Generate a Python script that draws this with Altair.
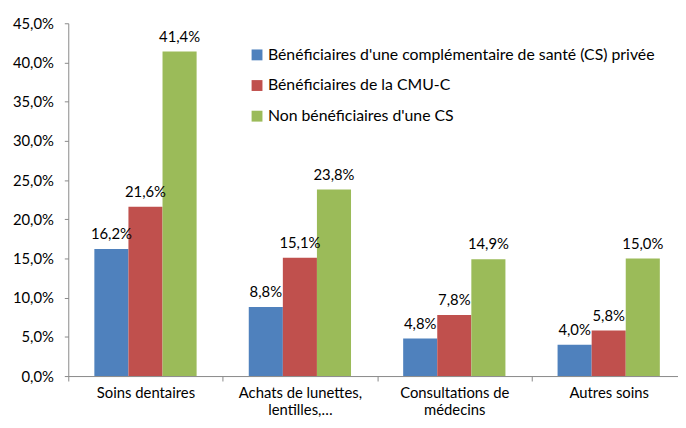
import altair as alt
import pandas as pd

categories = ["Soins dentaires", "Achats de lunettes, lentilles,…", "Consultations de médecins", "Autres soins"]
series = [
    "Bénéficiaires d'une complémentaire de santé (CS) privée",
    "Bénéficiaires de la CMU-C",
    "Non bénéficiaires d'une CS",
]
cs_privee = [16.2, 8.8, 4.8, 4.0]
cmu_c = [21.6, 15.1, 7.8, 5.8]
non_cs = [41.4, 23.8, 14.9, 15.0]
colors = ["#4F81BD", "#C0504D", "#9BBB59"]
y_ticks = [0, 0.05, 0.10, 0.15, 0.20, 0.25, 0.30, 0.35, 0.40, 0.45]

rows = []
for s, vals in zip(series, [cs_privee, cmu_c, non_cs]):
    for c, v in zip(categories, vals):
        rows.append({"cat": c, "serie": s, "val": v / 100,
                     "label": f"{v:.1f}%".replace(".", ",")})
df = pd.DataFrame(rows)

FONT = "Lato"

label_expr = (
    "datum.value == 'Achats de lunettes, lentilles,…' ? ['Achats de lunettes,', 'lentilles,…'] : "
    "datum.value == 'Consultations de médecins' ? ['Consultations de', 'médecins'] : datum.value"
)

base = alt.Chart(df).encode(
    x=alt.X("cat:N", sort=categories,
            scale=alt.Scale(range=[0, 625], paddingInner=0, paddingOuter=0),
            axis=alt.Axis(title=None, labelAngle=0, tickBand="extent",
                          labelExpr=label_expr, labelLineHeight=17,
                          labelPadding=5, tickSize=5, labelFontSize=15,
                          labelColor="#000000", domainColor="#888888",
                          tickColor="#888888", labelFont=FONT, labelBaseline="top")),
    xOffset=alt.XOffset("serie:N", sort=series,
                        scale=alt.Scale(paddingInner=0, paddingOuter=0.765)),
    y=alt.Y("val:Q", scale=alt.Scale(domain=[0, 0.45], nice=False),
            axis=alt.Axis(title=None, values=y_ticks, grid=False,
                          labelExpr="replace(format(datum.value, '.1%'), '.', ',')",
                          tickSize=4, labelPadding=11, labelFontSize=15,
                          labelColor="#000000", domainColor="#888888",
                          tickColor="#888888", labelFont=FONT)),
)

bars = base.mark_bar().encode(
    color=alt.Color("serie:N", sort=series,
                    scale=alt.Scale(domain=series, range=colors),
                    legend=alt.Legend(title=None, orient="none", legendX=183, legendY=24,
                                      symbolType="square", symbolSize=121,
                                      symbolStrokeWidth=0, labelFontSize=16,
                                      labelFont=FONT, labelColor="#000000",
                                      labelLimit=0, rowPadding=15, labelOffset=3))
)

texts = base.mark_text(baseline="bottom", dy=-7, fontSize=15, font=FONT, color="#000000").encode(
    text="label:N"
)

chart = alt.layer(bars, texts).properties(
    width=617, height=357,
    autosize=alt.AutoSizeParams(type="none"),
    padding={"left": 61, "top": 13, "right": 0, "bottom": 42},
).configure_view(stroke=None)

chart.save("out.html", embed_options={"renderer": "svg", "actions": False})
